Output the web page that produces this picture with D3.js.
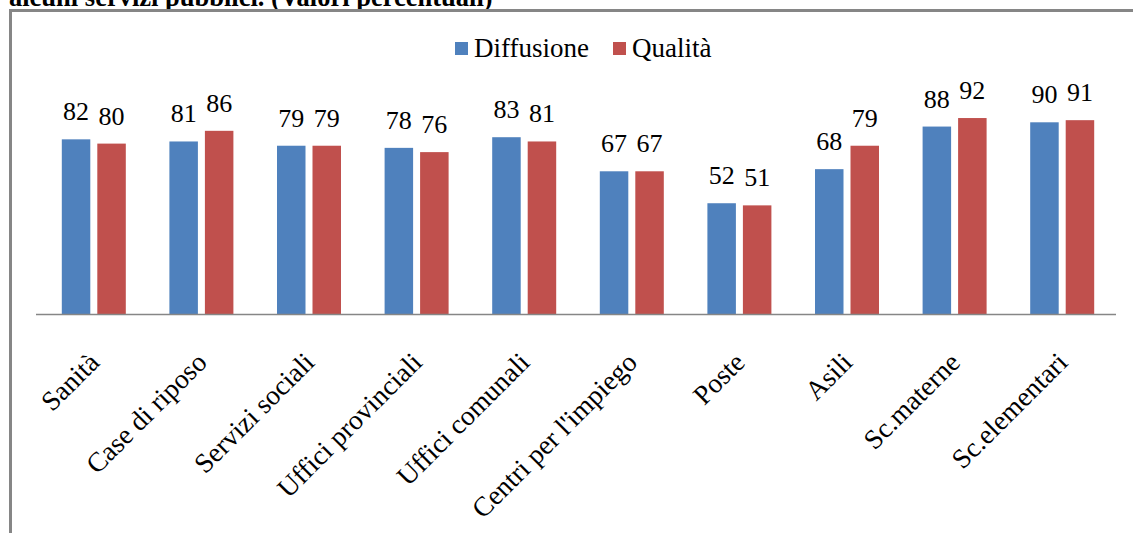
<!DOCTYPE html>
<html>
<head>
<meta charset="utf-8">
<script src="https://cdn.jsdelivr.net/npm/d3@7"></script>
<style>
  html, body { margin: 0; padding: 0; background: #fff; }
  svg { display: block; }
</style>
</head>
<body>
<svg id="chart" width="1133" height="533"></svg>
<script>
// Service categories and the two percentage series
const categories = ["Sanità", "Case di riposo", "Servizi sociali", "Uffici provinciali",
  "Uffici comunali", "Centri per l'impiego", "Poste", "Asili", "Sc.materne", "Sc.elementari"];
const diffusione = [82, 81, 79, 78, 83, 67, 52, 68, 88, 90];
const qualita    = [80, 86, 79, 76, 81, 67, 51, 79, 92, 91];
const seriesNames = ["Diffusione", "Qualità"];
const seriesColors = ["#4F81BD", "#C0504D"];
const titleText = "alcuni servizi pubblici. (Valori percentuali)";

const FONT = "'Liberation Serif', 'Times New Roman', 'DejaVu Serif', serif";
const svg = d3.select("#chart").attr("font-family", FONT);

// Title line (runs off the top edge)
svg.append("text")
  .attr("x", 9).attr("y", 6)
  .attr("font-family", FONT)
  .attr("font-size", 26.5).attr("font-weight", "bold")
  .text(titleText);

// Chart frame (open at right and bottom)
svg.append("path")
  .attr("d", "M10.5,533 L10.5,10.5 L1133,10.5")
  .attr("fill", "none").attr("stroke", "#868686").attr("stroke-width", 3);

const baseY = 314;
const x = d3.scaleBand().domain(categories).range([40, 1116]);
const y = d3.scaleLinear().domain([0, 100]).range([baseY, 101]);

const barW = 28.5, gap = 7;
const rows = categories.map((c, i) => ({ c, vals: [diffusione[i], qualita[i]] }));

const groups = svg.append("g").selectAll("g").data(rows).join("g")
  .attr("transform", d => `translate(${x(d.c) + x.bandwidth() / 2},0)`);

groups.selectAll("rect").data(d => d.vals).join("rect")
  .attr("x", (v, j) => j === 0 ? -gap / 2 - barW : gap / 2)
  .attr("width", barW)
  .attr("y", v => y(v))
  .attr("height", v => baseY - y(v))
  .attr("fill", (v, j) => seriesColors[j]);

groups.selectAll("text.val").data(d => d.vals).join("text")
  .attr("class", "val")
  .attr("x", (v, j) => (j === 0 ? -gap / 2 - barW / 2 : gap / 2 + barW / 2))
  .attr("y", v => y(v) - 19)
  .attr("text-anchor", "middle")
  .attr("font-family", FONT)
  .attr("font-size", 26)
  .text(v => v);

// Category axis line
svg.append("line")
  .attr("x1", 36).attr("x2", 1116).attr("y1", baseY + 0.5).attr("y2", baseY + 0.5)
  .attr("stroke", "#868686").attr("stroke-width", 1.5);

// Rotated category labels
svg.append("g").selectAll("text").data(categories).join("text")
  .attr("text-anchor", "end")
  .attr("font-family", FONT)
  .attr("font-size", 27.5)
  .attr("transform", d => `translate(${x(d) + x.bandwidth() / 2 + 7},${364}) rotate(-45)`)
  .text(d => d);

// Legend
const legend = svg.append("g");
const legendItems = [{ x: 455, tx: 474 }, { x: 613, tx: 632 }];
legendItems.forEach((it, i) => {
  legend.append("rect").attr("x", it.x).attr("y", 42).attr("width", 13).attr("height", 13)
    .attr("fill", seriesColors[i]);
  legend.append("text").attr("x", it.tx).attr("y", 57)
    .attr("font-family", FONT)
    .attr("font-size", 27).text(seriesNames[i]);
});
</script>
</body>
</html>
